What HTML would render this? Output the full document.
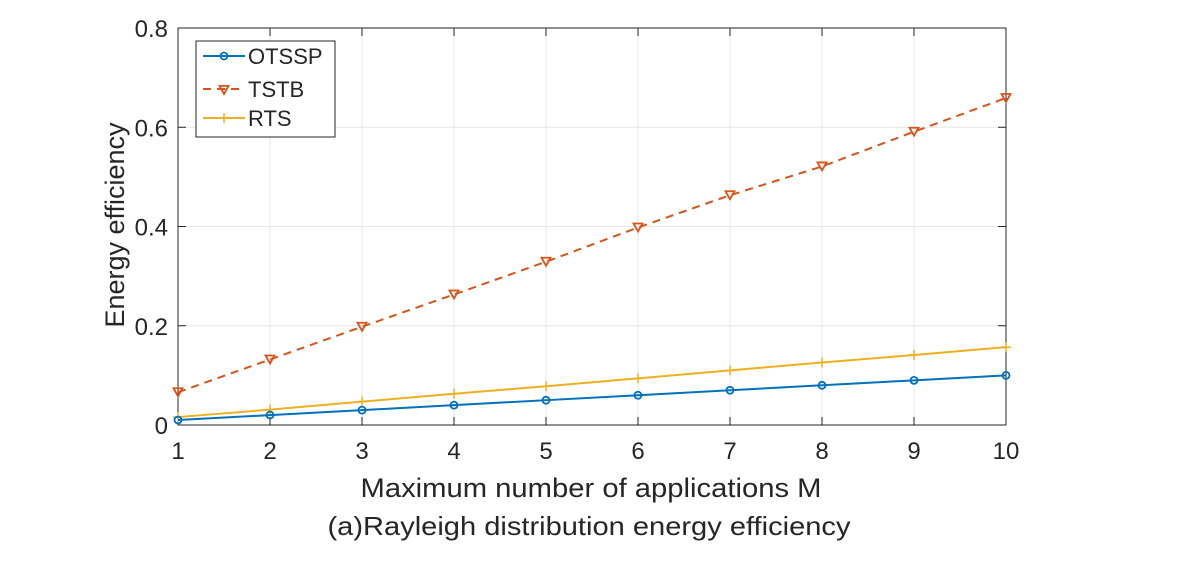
<!DOCTYPE html>
<html><head><meta charset="utf-8"><style>
body{margin:0;background:#fff;}
svg text{font-family:"Liberation Sans",Arial,sans-serif;fill:#262626;}
</style></head><body>
<svg id="chart" width="1184" height="566" xmlns="http://www.w3.org/2000/svg">
<rect x="0" y="0" width="1184" height="566" fill="#fff"/>
<g id="grid"></g>
<rect x="178" y="28" width="828" height="397" fill="none" stroke="#262626" stroke-width="1"/>
<g id="ticks"></g>
<g id="series"></g>
<text x="591" y="497" font-size="27" text-anchor="middle" textLength="461" lengthAdjust="spacingAndGlyphs">Maximum number of applications M</text>
<text x="589" y="535" font-size="26" text-anchor="middle" textLength="523" lengthAdjust="spacingAndGlyphs">(a)Rayleigh distribution energy efficiency</text>
<text transform="translate(124,225) rotate(-90)" font-size="27" text-anchor="middle">Energy efficiency</text>
<g>
<rect x="196" y="41" width="139" height="96" fill="#fff" stroke="#262626" stroke-width="1"/>
<g>
<line x1="203" y1="56" x2="245" y2="56" stroke="#0072BD" stroke-width="2"/>
<circle cx="224" cy="56" r="3.5" fill="none" stroke="#0072BD" stroke-width="1.8"/>
<text x="248" y="64" font-size="22">OTSSP</text></g>
<g>
<line x1="203" y1="89" x2="245" y2="89" stroke="#D95319" stroke-width="2" stroke-dasharray="8,6"/>
<path d="M219.5,86 L228.5,86 L224,94 Z" fill="none" stroke="#D95319" stroke-width="1.8"/>
<text x="248" y="97" font-size="22">TSTB</text></g>
<g>
<line x1="203" y1="118" x2="245" y2="118" stroke="#EDB120" stroke-width="2"/>
<line x1="224" y1="113" x2="224" y2="123" stroke="#EDB120" stroke-width="1.5"/>
<text x="248" y="126" font-size="22">RTS</text></g>
</g>
</svg>
<script>
const categories=[1,2,3,4,5,6,7,8,9,10];
const otssp=[0.01,0.02,0.03,0.04,0.05,0.06,0.07,0.08,0.09,0.1];
const tstb=[0.066,0.132,0.198,0.263,0.329,0.398,0.463,0.521,0.591,0.659];
const rts=[0.016,0.031,0.047,0.063,0.078,0.094,0.11,0.126,0.141,0.157];
const yTicks=[0,0.2,0.4,0.6,0.8];
const yTickLabels=["0","0.2","0.4","0.6","0.8"];
const NS="http://www.w3.org/2000/svg";
const X=v=>178+(v-1)*(828/9);
const Y=v=>425-v*(397/0.8);
function mk(tag,attrs,parent){const e=document.createElementNS(NS,tag);for(const k in attrs)e.setAttribute(k,attrs[k]);parent.appendChild(e);return e;}
const grid=document.getElementById('grid'),ticks=document.getElementById('ticks'),series=document.getElementById('series');
categories.forEach(c=>{
 const g=mk('line',{x1:X(c),x2:X(c),y1:28,y2:425,stroke:'#e6e6e6','stroke-width':1},grid);
 
 
 mk('line',{x1:X(c),x2:X(c),y1:425,y2:417,stroke:'#262626'},ticks);
 mk('line',{x1:X(c),x2:X(c),y1:28,y2:36,stroke:'#262626'},ticks);
 const t=mk('text',{x:X(c),y:459,'font-size':24,'text-anchor':'middle'},ticks);t.textContent=c;
 
 
});
yTicks.forEach((v,i)=>{
 const g=mk('line',{x1:178,x2:1006,y1:Y(v),y2:Y(v),stroke:'#e6e6e6','stroke-width':1},grid);
 
 
 mk('line',{x1:178,x2:186,y1:Y(v),y2:Y(v),stroke:'#262626'},ticks);
 mk('line',{x1:998,x2:1006,y1:Y(v),y2:Y(v),stroke:'#262626'},ticks);
 const t=mk('text',{x:168,y:Y(v)+9,'font-size':24,'text-anchor':'end'},ticks);t.textContent=yTickLabels[i];
 
 
});
function draw(data,color,dash,marker,name){
 const g=mk('g',{},series);
 
 
 const pts=data.map((v,i)=>X(categories[i])+','+Y(v)).join(' ');
 mk('polyline',{points:pts,fill:'none',stroke:color,'stroke-width':2,'stroke-dasharray':dash},g);
 data.forEach((v,i)=>{const x=X(categories[i]),y=Y(v);let m;
  if(marker==='o')m=mk('circle',{cx:x,cy:y,r:3.5,fill:'none',stroke:color,'stroke-width':1.8},g);
  else if(marker==='v')m=mk('path',{d:`M${x-4.5},${y-4} L${x+4.5},${y-4} L${x},${y+4} Z`,fill:'none',stroke:color,'stroke-width':1.8},g);
  else m=mk('path',{d:`M${x-5},${y} L${x+5},${y} M${x},${y-5} L${x},${y+5}`,stroke:color,'stroke-width':1.5},g);
  
  
 });
}
draw(tstb,'#D95319','8,6','v','series-tstb');
draw(rts,'#EDB120','none','+','series-rts');
draw(otssp,'#0072BD','none','o','series-otssp');
</script>
</body></html>
